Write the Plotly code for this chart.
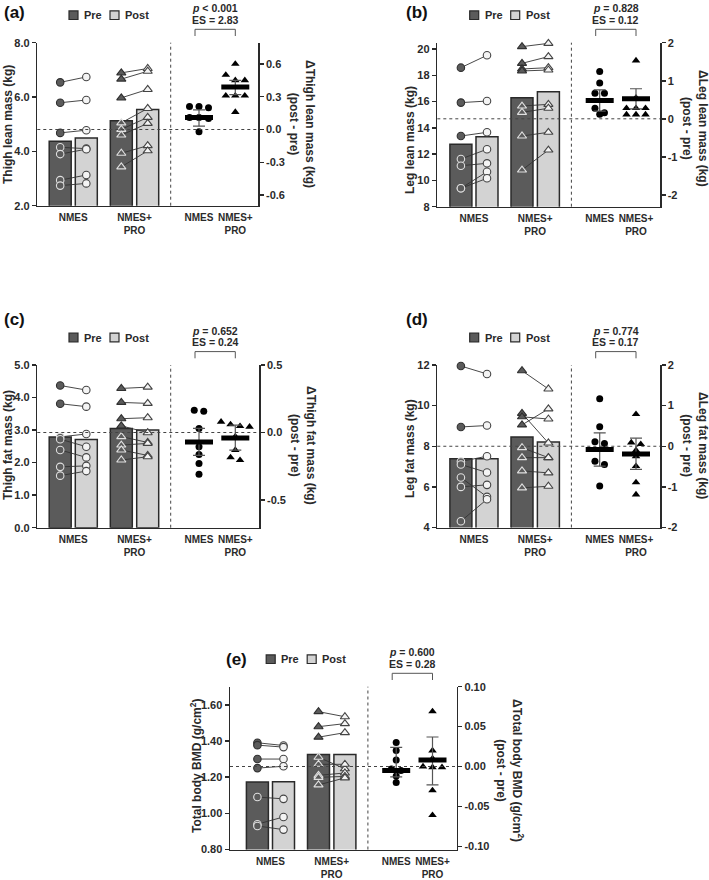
import plotly.graph_objects as go

# ---------------- data ----------------
group_labels = ["NMES", "NMES+<br>PRO"]

# (a) Thigh lean mass
a_nmes_pre = [6.54, 5.79, 4.68, 4.15, 3.90, 2.94, 2.74]
a_nmes_post = [6.74, 5.89, 4.78, 4.10, 4.08, 3.13, 2.82]
a_pro_pre = [6.89, 6.66, 5.97, 5.05, 4.81, 4.60, 3.93, 3.43]
a_pro_post = [7.05, 6.95, 6.28, 5.58, 5.25, 5.03, 4.21, 4.02]
a_bars = [4.37, 4.49, 5.13, 5.54]
a_delta_nmes = [0.21, 0.21, 0.20, 0.11, 0.11, 0.10, -0.02]
a_delta_pro = [0.60, 0.50, 0.45, 0.45, 0.31, 0.31, 0.31, 0.16]
a_delta_mean = [0.11, 0.39]
a_delta_hi = [0.18, 0.45]
a_delta_lo = [0.03, 0.32]
a_stats = ["<i>p</i> &lt; 0.001", "ES = 2.83"]

# (b) Leg lean mass
b_nmes_pre = [18.58, 15.92, 13.38, 11.63, 11.12, 9.40, 9.40]
b_nmes_post = [19.52, 16.04, 13.66, 12.37, 11.30, 10.66, 10.16]
b_pro_pre = [20.18, 18.91, 18.48, 18.33, 15.66, 15.18, 13.38, 10.79]
b_pro_post = [20.43, 19.42, 18.58, 18.40, 15.79, 15.49, 13.66, 12.31]
b_bars = [12.75, 13.33, 16.30, 16.75]
b_delta_nmes = [1.24, 0.94, 0.67, 0.67, 0.28, 0.16, 0.12]
b_delta_pro = [1.53, 0.55, 0.28, 0.28, 0.28, 0.11, 0.11, 0.11]
b_delta_mean = [0.48, 0.53]
b_delta_hi = [0.76, 0.79]
b_delta_lo = [0.20, 0.26]
b_stats = ["<i>p</i> = 0.828", "ES = 0.12"]

# (c) Thigh fat mass
c_nmes_pre = [4.37, 3.81, 2.79, 2.72, 2.39, 1.87, 1.60]
c_nmes_post = [4.23, 3.72, 2.88, 2.49, 2.16, 1.90, 1.74]
c_pro_pre = [4.28, 3.85, 3.35, 3.13, 2.80, 2.54, 2.39, 2.08]
c_pro_post = [4.32, 3.82, 3.38, 2.92, 2.62, 2.59, 2.22, 2.18]
c_bars = [2.79, 2.71, 3.05, 3.00]
c_delta_nmes = [0.165, 0.158, 0.03, -0.106, -0.163, -0.23, -0.31]
c_delta_pro = [0.079, 0.06, 0.047, 0.042, -0.03, -0.13, -0.185, -0.205]
c_delta_mean = [-0.07, -0.04]
c_delta_hi = [0.03, 0.054]
c_delta_lo = [-0.17, -0.13]
c_stats = ["<i>p</i> = 0.652", "ES = 0.24"]

# (d) Leg fat mass
d_nmes_pre = [11.95, 8.95, 7.25, 7.10, 6.46, 6.00, 4.31]
d_nmes_post = [11.56, 9.02, 7.51, 6.71, 5.51, 6.10, 5.39]
d_pro_pre = [11.72, 9.62, 9.45, 9.05, 7.93, 7.44, 6.79, 5.95]
d_pro_post = [10.82, 8.16, 9.34, 9.84, 7.44, 7.44, 6.69, 6.03]
d_bars = [7.39, 7.39, 8.46, 8.21]
d_delta_nmes = [1.17, 0.48, 0.11, 0.07, -0.37, -0.45, -0.98]
d_delta_pro = [0.79, 0.09, 0.05, -0.10, -0.25, -0.49, -0.89, -1.19]
d_delta_mean = [-0.08, -0.19]
d_delta_hi = [0.33, 0.20]
d_delta_lo = [-0.49, -0.57]
d_stats = ["<i>p</i> = 0.774", "ES = 0.17"]

# (e) Total body BMD
e_nmes_pre = [1.39, 1.377, 1.30, 1.25, 1.09, 0.94, 0.93]
e_nmes_post = [1.375, 1.366, 1.30, 1.26, 1.08, 0.98, 0.91]
e_pro_pre = [1.562, 1.479, 1.421, 1.31, 1.271, 1.21, 1.199, 1.157]
e_pro_post = [1.534, 1.496, 1.446, 1.246, 1.271, 1.223, 1.204, 1.196]
e_bars = [1.173, 1.175, 1.325, 1.325]
e_delta_nmes = [0.030, 0.020, 0.008, -0.003, -0.005, -0.012, -0.020]
e_delta_pro = [0.069, 0.020, 0.010, 0.0, -0.001, -0.001, -0.030, -0.061]
e_delta_mean = [-0.005, 0.0083]
e_delta_hi = [0.024, 0.037]
e_delta_lo = [-0.013, -0.023]
e_stats = ["<i>p</i> = 0.600", "ES = 0.28"]

# axis ticks
a_lticks = [2.0, 4.0, 6.0, 8.0]; a_ltext = ["2.0", "4.0", "6.0", "8.0"]
a_rticks = [-0.6, -0.3, 0.0, 0.3, 0.6]; a_rtext = ["-0.6", "-0.3", "0.0", "0.3", "0.6"]
b_lticks = [8, 10, 12, 14, 16, 18, 20]; b_ltext = ["8", "10", "12", "14", "16", "18", "20"]
b_rticks = [-2, -1, 0, 1, 2]; b_rtext = ["-2", "-1", "0", "1", "2"]
c_lticks = [0, 1, 2, 3, 4, 5]; c_ltext = ["0.0", "1.0", "2.0", "3.0", "4.0", "5.0"]
c_rticks = [-0.5, 0.0, 0.5]; c_rtext = ["-0.5", "0.0", "0.5"]
d_lticks = [4, 6, 8, 10, 12]; d_ltext = ["4", "6", "8", "10", "12"]
d_rticks = [-2, -1, 0, 1, 2]; d_rtext = ["-2", "-1", "0", "1", "2"]
e_lticks = [0.8, 1.0, 1.2, 1.4, 1.6]; e_ltext = ["0.80", "1.00", "1.20", "1.40", "1.60"]
e_rticks = [-0.10, -0.05, 0.0, 0.05, 0.10]; e_rtext = ["-0.10", "-0.05", "0.00", "0.05", "0.10"]

# ---------------- style / layout constants ----------------
W, H = 709, 880
FONT = "Liberation Sans, Arial, Helvetica, sans-serif"
INK = "#2a2a2a"
PRE_C = "#5b5b5b"
POST_C = "#d3d3d3"
GRID_C = "#555555"

POS_PRE1, POS_POST1, POS_PRE2, POS_POST2 = 22.9, 49.0, 84.0, 110.4
VLINE = 133.4
POS_D1, POS_D2 = 161.7, 198.0
BAR_W = 22

panels = [
    dict(tag="(a)", tag_xy=(15, 12), box=(37.3, 258.3, 42.7, 205.7), xr=(0, 221),
         yl=(2, 8), yr=(-0.698, 0.795),
         lt=(a_lticks, a_ltext), rt=(a_rticks, a_rtext),
         ltitle="Thigh lean mass (kg)", ltitle_xy=(8, 125),
         rtitle="ΔThigh lean mass (kg)<br>(post - pre)", rtitle_xy=(302, 124),
         pre=(a_nmes_pre, a_pro_pre), post=(a_nmes_post, a_pro_post), bars=a_bars,
         delta=(a_delta_nmes, a_delta_pro), mean=a_delta_mean, hi=a_delta_hi, lo=a_delta_lo,
         stats=a_stats),
    dict(tag="(b)", tag_xy=(417, 12), box=(437.3, 660.0, 42.7, 206.7), xr=(-0.7, 222.0),
         yl=(8, 20.48), yr=(-2.31, 2.0),
         lt=(b_lticks, b_ltext), rt=(b_rticks, b_rtext),
         ltitle="Leg lean mass (kg)", ltitle_xy=(410, 140),
         rtitle="ΔLeg lean mass (kg)<br>(post - pre)", rtitle_xy=(695, 128),
         pre=(b_nmes_pre, b_pro_pre), post=(b_nmes_post, b_pro_post), bars=b_bars,
         delta=(b_delta_nmes, b_delta_pro), mean=b_delta_mean, hi=b_delta_hi, lo=b_delta_lo,
         stats=b_stats),
    dict(tag="(c)", tag_xy=(15, 319), box=(37.3, 259.3, 365.0, 527.7), xr=(0, 222.0),
         yl=(0, 5), yr=(-0.705, 0.5),
         lt=(c_lticks, c_ltext), rt=(c_rticks, c_rtext),
         ltitle="Thigh fat mass (kg)", ltitle_xy=(8, 445),
         rtitle="ΔThigh fat mass (kg)<br>(post - pre)", rtitle_xy=(303, 445),
         pre=(c_nmes_pre, c_pro_pre), post=(c_nmes_post, c_pro_post), bars=c_bars,
         delta=(c_delta_nmes, c_delta_pro), mean=c_delta_mean, hi=c_delta_hi, lo=c_delta_lo,
         stats=c_stats),
    dict(tag="(d)", tag_xy=(417, 319), box=(437.3, 660.0, 365.0, 527.5), xr=(-0.7, 222.0),
         yl=(4, 12), yr=(-2, 2),
         lt=(d_lticks, d_ltext), rt=(d_rticks, d_rtext),
         ltitle="Leg fat mass (kg)", ltitle_xy=(410, 449),
         rtitle="ΔLeg fat mass (kg)<br>(post - pre)", rtitle_xy=(695, 445),
         pre=(d_nmes_pre, d_pro_pre), post=(d_nmes_post, d_pro_post), bars=d_bars,
         delta=(d_delta_nmes, d_delta_pro), mean=d_delta_mean, hi=d_delta_hi, lo=d_delta_lo,
         stats=d_stats),
    dict(tag="(e)", tag_xy=(236, 659), box=(230.0, 456.7, 686.7, 849.5), xr=(-4.5, 222.2),
         yl=(0.8, 1.70), yr=(-0.104, 0.10),
         lt=(e_lticks, e_ltext), rt=(e_rticks, e_rtext),
         ltitle="Total body BMD (g/cm<sup>2</sup>)", ltitle_xy=(196, 766),
         rtitle="ΔTotal body BMD (g/cm<sup>2</sup>)<br>(post - pre)", rtitle_xy=(510, 770),
         pre=(e_nmes_pre, e_pro_pre), post=(e_nmes_post, e_pro_post), bars=e_bars,
         delta=(e_delta_nmes, e_delta_pro), mean=e_delta_mean, hi=e_delta_hi, lo=e_delta_lo,
         stats=e_stats),
]


def swarm(vals, ppu, spacing=9.5, thr=6.0):
    order = sorted(range(len(vals)), key=lambda i: -vals[i])
    offs = [0.0] * len(vals)
    groups = []
    for i in order:
        if groups and abs(vals[groups[-1][0]] - vals[i]) * ppu < thr:
            groups[-1].append(i)
        else:
            groups.append([i])
    for g in groups:
        n = len(g)
        for k, i in enumerate(g):
            offs[i] = (k - (n - 1) / 2) * spacing
    return offs


def py(y):
    return 1 - y / H


fig = go.Figure()
layout = {}
shapes = []
annotations = []

tickfont = dict(family=FONT, size=11, color=INK, weight="bold")
xtickfont = dict(family=FONT, size=10, color=INK, weight="bold")

for i, P in enumerate(panels):
    xa = "x" if i == 0 else f"x{i+1}"
    yl = "y" if i == 0 else f"y{2*i+1}"
    yr = f"y{2*i+2}"
    xkey = "xaxis" if i == 0 else f"xaxis{i+1}"
    ylkey = "yaxis" if i == 0 else f"yaxis{2*i+1}"
    yrkey = f"yaxis{2*i+2}"
    L, R, T, B = P["box"]

    layout[xkey] = dict(domain=[L / W, R / W], range=list(P["xr"]), anchor=yl,
                        showline=True, linecolor=INK, linewidth=1.5, ticks="",
                        tickangle=0, ticklabelstandoff=2, automargin=False,
                        tickvals=[(POS_PRE1 + POS_POST1) / 2, (POS_PRE2 + POS_POST2) / 2, POS_D1, POS_D2],
                        ticktext=group_labels * 2, tickfont=xtickfont,
                        showgrid=False, zeroline=False, fixedrange=True)
    axcommon = dict(showline=True, linecolor=INK, linewidth=1.5, ticks="outside",
                    ticklen=4, tickwidth=1.5, tickcolor=INK, tickfont=tickfont,
                    showgrid=False, zeroline=False, fixedrange=True, automargin=False)
    layout[ylkey] = dict(domain=[py(B), py(T)], range=list(P["yl"]), anchor=xa,
                         tickvals=P["lt"][0], ticktext=P["lt"][1], **axcommon)
    layout[yrkey] = dict(overlaying=yl, side="right", anchor=xa, range=list(P["yr"]),
                         tickvals=P["rt"][0], ticktext=P["rt"][1], **axcommon)

    # bars
    fig.add_trace(go.Bar(x=[POS_PRE1, POS_POST1, POS_PRE2, POS_POST2], y=P["bars"], width=BAR_W,
                         marker=dict(color=[PRE_C, POST_C, PRE_C, POST_C],
                                     line=dict(color=INK, width=1.5)),
                         xaxis=xa, yaxis=yl, hoverinfo="skip"))

    # paired lines + markers
    for gi, (xpre, xpost, sym) in enumerate([(POS_PRE1, POS_POST1, "circle"),
                                             (POS_PRE2, POS_POST2, "triangle-up")]):
        pre = P["pre"][gi]
        post = P["post"][gi]
        lx, ly = [], []
        for a, b in zip(pre, post):
            lx += [xpre, xpost, None]
            ly += [a, b, None]
        fig.add_trace(go.Scatter(x=lx, y=ly, mode="lines", line=dict(color="#333333", width=0.9),
                                 xaxis=xa, yaxis=yl, cliponaxis=False, hoverinfo="skip"))
        bar_pre = P["bars"][2 * gi]
        msize = 7.5 if sym == "circle" else 8
        fig.add_trace(go.Scatter(
            x=[xpre] * len(pre), y=pre, mode="markers", xaxis=xa, yaxis=yl, cliponaxis=False,
            marker=dict(symbol=sym, size=msize, color=PRE_C,
                        line=dict(color=["#e0e0e0" if v <= bar_pre else "#303030" for v in pre], width=1.1)),
            hoverinfo="skip"))
        fig.add_trace(go.Scatter(
            x=[xpost] * len(post), y=post, mode="markers", xaxis=xa, yaxis=yl, cliponaxis=False,
            marker=dict(symbol=sym, size=msize, color="#f4f4f4", line=dict(color="#444444", width=1.1)),
            hoverinfo="skip"))

    # deltas (right axis)
    ppu = (B - T) / (P["yr"][1] - P["yr"][0])
    for gi, (xd, sym) in enumerate([(POS_D1, "circle"), (POS_D2, "triangle-up")]):
        vals = P["delta"][gi]
        offs = swarm(vals, ppu)
        fig.add_trace(go.Scatter(
            x=[xd + o for o in offs], y=vals, mode="markers", xaxis=xa, yaxis=yr, cliponaxis=False,
            marker=dict(symbol=sym, size=7 if sym == "circle" else 7.5, color="#000000"),
            hoverinfo="skip"))
        hi, lo, m = P["hi"][gi], P["lo"][gi], P["mean"][gi]
        cap = 6
        fig.add_trace(go.Scatter(
            x=[xd, xd, None, xd - cap, xd + cap, None, xd - cap, xd + cap],
            y=[lo, hi, None, hi, hi, None, lo, lo], mode="lines",
            line=dict(color=GRID_C, width=1.2), xaxis=xa, yaxis=yr, cliponaxis=False,
            hoverinfo="skip"))
        fig.add_trace(go.Scatter(
            x=[xd - 14, xd + 14], y=[m, m], mode="lines",
            line=dict(color="#000000", width=5), xaxis=xa, yaxis=yr, cliponaxis=False,
            hoverinfo="skip"))

    # dashed reference lines
    shapes.append(dict(type="line", xref=f"{xa} domain", x0=0, x1=1, yref=yr, y0=0, y1=0,
                       line=dict(color="#444444", width=1, dash="dot"), layer="above"))
    shapes.append(dict(type="line", xref=xa, x0=VLINE, x1=VLINE, yref=f"{yl} domain", y0=0, y1=1,
                       line=dict(color="#444444", width=1, dash="dot"), layer="above"))

    # legend squares + labels
    ly_c = T - 27.5
    for (x0, lab) in [(31.7, "Pre"), (72.7, "Post")]:
        shapes.append(dict(type="rect", xref=xa, x0=x0, x1=x0 + 9, yref="paper",
                           y0=py(ly_c + 4.3), y1=py(ly_c - 4.3),
                           fillcolor=PRE_C if lab == "Pre" else POST_C,
                           line=dict(color=INK, width=1.2)))
        annotations.append(dict(text=lab, xref=xa, x=x0 + 13, yref="paper", y=py(ly_c),
                                xanchor="left", yanchor="middle", showarrow=False,
                                font=dict(family=FONT, size=11, color=INK, weight="bold")))

    # significance bracket + text
    xb0, xb1 = POS_D1 - 4, POS_D2
    yt, yb = T - 13.4, T - 6.7
    shapes.append(dict(type="path", xref=xa, yref="paper",
                       path=f"M {xb0},{py(yb)} L {xb0},{py(yt)} L {xb1},{py(yt)} L {xb1},{py(yb)}",
                       line=dict(color="#555555", width=1)))
    xc = (POS_D1 + POS_D2) / 2 - 2
    annotations.append(dict(text=P["stats"][0], xref=xa, x=xc, yref="paper", y=py(T - 34.4),
                            xanchor="center", yanchor="middle", showarrow=False,
                            font=dict(family=FONT, size=10.5, color=INK, weight="bold")))
    annotations.append(dict(text=P["stats"][1], xref=xa, x=xc, yref="paper", y=py(T - 22.7),
                            xanchor="center", yanchor="middle", showarrow=False,
                            font=dict(family=FONT, size=10.5, color=INK, weight="bold")))

    # panel tag
    annotations.append(dict(text=P["tag"], xref="paper", x=P["tag_xy"][0] / W, yref="paper",
                            y=py(P["tag_xy"][1]), xanchor="center", yanchor="middle", showarrow=False,
                            font=dict(family=FONT, size=17, color="#111111", weight="bold")))

    # axis titles
    annotations.append(dict(text=P["ltitle"], xref="paper", x=P["ltitle_xy"][0] / W, yref="paper",
                            y=py(P["ltitle_xy"][1]), textangle=-90, xanchor="center", yanchor="middle",
                            showarrow=False, font=dict(family=FONT, size=12, color=INK, weight="bold")))
    annotations.append(dict(text=P["rtitle"], xref="paper", x=P["rtitle_xy"][0] / W, yref="paper",
                            y=py(P["rtitle_xy"][1]), textangle=90, xanchor="center", yanchor="middle",
                            showarrow=False, font=dict(family=FONT, size=12, color=INK, weight="bold")))

fig.update_layout(width=W, height=H, margin=dict(l=0, r=0, t=0, b=0, autoexpand=False),
                  autosize=False,
                  paper_bgcolor="white", plot_bgcolor="white", showlegend=False,
                  font=dict(family=FONT, color=INK), shapes=shapes, annotations=annotations,
                  **layout)

fig.write_html("out.html", config={"displayModeBar": False, "staticPlot": True},
               post_script="document.body.style.margin='0';document.body.style.overflow='hidden';")
